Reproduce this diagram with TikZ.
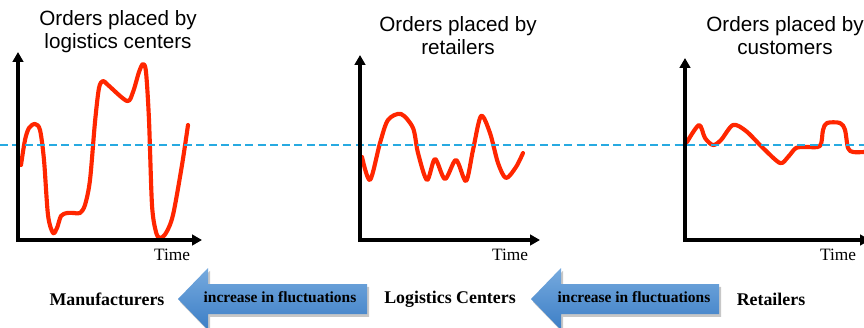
\documentclass[tikz,border=0pt]{standalone}
\usepackage{fontspec}
\setmainfont{Liberation Serif}
\newfontfamily\arialfont{Liberation Sans}
\usetikzlibrary{arrows.meta}
\definecolor{curvered}{RGB}{255,38,0}
\definecolor{meanblue}{RGB}{40,170,225}
\definecolor{arrowtop}{RGB}{118,170,222}
\definecolor{arrowbot}{RGB}{60,126,198}
\begin{document}
\begin{tikzpicture}[x=0.75pt,y=-0.75pt,
  axis/.style={line width=2.4pt,-{Triangle[length=7.5pt,width=8pt]}},
  orders/.style={curvered,line width=3.1pt,line join=round,line cap=round},
  meanline/.style={meanblue,line width=1.2pt,dash pattern=on 6pt off 3.2pt},
  ptitle/.style={font=\arialfont\fontsize{15.5pt}{17.3pt}\selectfont,align=center,inner sep=0pt},
  timelbl/.style={font=\fontsize{13pt}{15pt}\selectfont,inner sep=0pt},
  stage/.style={font=\bfseries\fontsize{13.4pt}{16pt}\selectfont,inner sep=0pt},
  arrowtxt/.style={font=\bfseries\fontsize{11.6pt}{14pt}\selectfont,inner sep=0pt},
  arrowfill/.style={top color=arrowtop,bottom color=arrowbot,draw=none},
  arrowshadow/.style={fill=black,opacity=0.22}]
\useasboundingbox (0,0) rectangle (864,328);

% order curves
\draw[orders] plot[smooth,tension=0.5] coordinates {
  (21,165) (25,140) (29,128) (35,124) (40,130) (44,160) (48,215) (53,233)
  (57,228) (61,216) (67,213) (74,213) (80,213) (85,205) (90,180) (95,122)
  (99,88) (103,81) (108,85) (127,101) (133,92) (139,72) (143,64) (146,72)
  (149,120) (152,205) (156,232) (160,238) (166,233) (173,215) (182,165) (188,125)};
\draw[orders] plot[smooth,tension=0.5] coordinates {
  (362,157) (370,180) (380,143) (388,120) (401,114) (413,128) (418,153)
  (427,180) (435,159) (445,179) (456,160) (466,181) (473,150) (481,116)
  (490,133) (498,163) (506,178) (516,167) (523,153)};
\draw[orders] plot[smooth,tension=0.5] coordinates {
  (687,142) (699,125) (705,138) (713,145) (721,140) (733,125) (746,131)
  (763,148) (780,163) (788,157) (796,148) (806,147) (820,146) (823,130)
  (827,123) (840,123) (845,130) (848,148) (853,152) (864,152)};

% average order level
\coordinate (meanL) at (0,145);
\coordinate (meanR) at (864,145);
\draw[meanline] (meanL) -- (meanR);

% axes of the three charts
\coordinate (o1) at (18,240);  \coordinate (y1) at (18,52);  \coordinate (x1) at (202,240);
\coordinate (o2) at (360,240); \coordinate (y2) at (360,55); \coordinate (x2) at (540,240);
\coordinate (o3) at (685,240); \coordinate (y3) at (685,58); \coordinate (x3) at (870,240);
\foreach \i in {1,2,3}{
  \draw[axis] ([yshift=-1.5pt]o\i) -- (y\i);
  \draw[axis] ([xshift=-1.5pt]o\i) -- (x\i);
}

% chart titles and time labels
\node[ptitle] (title1) at (118,32) {Orders placed by\\logistics centers};
\node[ptitle] (title2) at (458,36) {Orders placed by\\retailers};
\node[ptitle] (title3) at (785,36) {Orders placed by\\customers};
\node[timelbl] (time1) at (172,255) {Time};
\node[timelbl] (time2) at (510,255) {Time};
\node[timelbl] (time3) at (838,255) {Time};

% supply chain stages
\node[stage] (manu) at (107,299) {Manufacturers};
\node[stage] (logi) at (450,299) {Logistics Centers};
\node[stage] (reta) at (771,299) {Retailers};

% block arrows between stages
\coordinate (tipA) at (178,299);
\coordinate (tipB) at (531,299);
\foreach \t/\len in {tipA/159,tipB/158}{
  \path[arrowshadow] ([xshift=1.5pt,yshift=-2.2pt]\t) -- ++(30,-31) -- ++(0,16) -- ++(\len,0)
     -- ++(0,30) -- ++(-\len,0) -- ++(0,16) -- cycle;
  \path[arrowfill] (\t) -- ++(30,-31) -- ++(0,16) -- ++(\len,0)
     -- ++(0,30) -- ++(-\len,0) -- ++(0,16) -- cycle;
}
\node[arrowtxt] (incA) at (280,297) {increase in fluctuations};
\node[arrowtxt] (incB) at (634,297) {increase in fluctuations};
\end{tikzpicture}
\end{document}
